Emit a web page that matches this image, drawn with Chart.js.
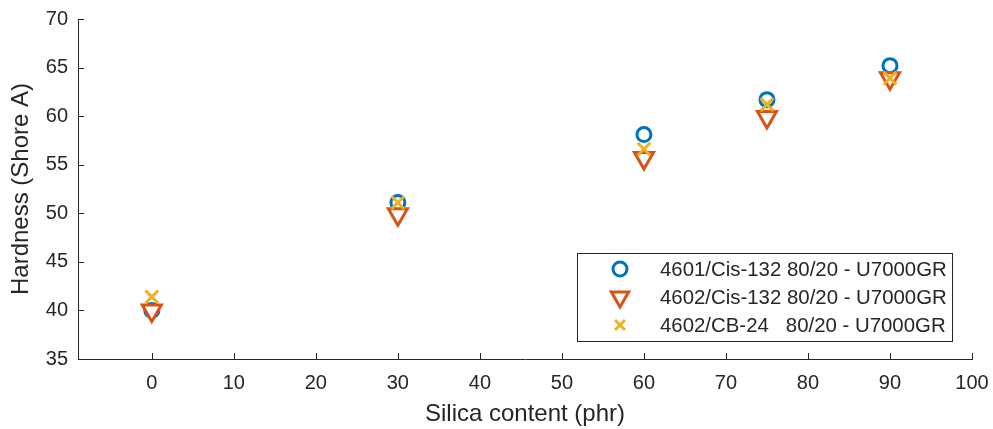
<!DOCTYPE html>
<html>
<head>
<meta charset="utf-8">
<script src="https://cdn.jsdelivr.net/npm/chart.js@4/dist/chart.umd.min.js"></script>
<style>
  body { margin: 0; background: #fff; }
</style>
</head>
<body>
<canvas id="hardness" width="993" height="429"></canvas>
<script>
// Silica content (phr) vs hardness (Shore A) for three compounds
const silica = [0, 30, 60, 75, 90];
const cis4601 = [40.0, 51.1, 58.1, 61.7, 65.2];
const cis4602 = [40.0, 49.9, 55.7, 59.9, 63.9];
const cb4602 = [41.4, 51.1, 56.6, 61.2, 63.9];

const seriesLabels = [
  '4601/Cis-132 80/20 - U7000GR',
  '4602/Cis-132 80/20 - U7000GR',
  '4602/CB-24   80/20 - U7000GR'
];
const xTicks = [0, 10, 20, 30, 40, 50, 60, 70, 80, 90, 100];

const axisColor = '#262626';
const fontFamily = '"Liberation Sans", Arial, sans-serif';

function points(ys) {
  return silica.map((x, i) => ({ x: x, y: ys[i] }));
}

// MATLAB-like ticks drawn inside the axes
const inwardTicks = {
  id: 'inwardTicks',
  afterDraw(chart) {
    const ctx = chart.ctx;
    const xs = chart.scales.x, ys = chart.scales.y;
    const area = chart.chartArea;
    ctx.save();
    ctx.strokeStyle = axisColor;
    ctx.lineWidth = 1;
    ctx.beginPath();
    xs.ticks.forEach(t => {
      const px = Math.round(xs.getPixelForValue(t.value)) + 0.5;
      ctx.moveTo(px, area.bottom);
      ctx.lineTo(px, area.bottom - 6);
    });
    ys.ticks.forEach(t => {
      const py = Math.round(ys.getPixelForValue(t.value)) + 0.5;
      ctx.moveTo(area.left, py);
      ctx.lineTo(area.left + 6, py);
    });
    ctx.stroke();
    ctx.restore();
  }
};

// legend box in the lower right of the plot
const boxLegend = {
  id: 'boxLegend',
  afterDraw(chart) {
    const ctx = chart.ctx;
    const area = chart.chartArea;
    const w = 375, h = 88;
    const left = area.right - 20 - w;
    const top = area.bottom - 18 - h;
    ctx.save();
    ctx.fillStyle = '#fff';
    ctx.fillRect(left, top, w, h);
    ctx.strokeStyle = axisColor;
    ctx.lineWidth = 1;
    ctx.strokeRect(Math.round(left) + 0.5, Math.round(top) + 0.5, w, h);
    chart.data.datasets.forEach((ds, i) => {
      const cy = top + 16 + i * 28;
      ctx.strokeStyle = ds.borderColor;
      ctx.fillStyle = ds.backgroundColor;
      ctx.lineWidth = ds.borderWidth;
      Chart.helpers.drawPoint(ctx, {
        pointStyle: ds.pointStyle,
        radius: ds.legendRadius,
        rotation: ds.rotation || 0,
        borderWidth: ds.borderWidth
      }, left + 43, cy);
      ctx.fillStyle = axisColor;
      ctx.font = '20.4px ' + fontFamily;
      ctx.textBaseline = 'middle';
      ctx.textAlign = 'left';
      ctx.fillText(ds.label, left + 83, cy + 1);
    });
    ctx.restore();
  }
};

new Chart(document.getElementById('hardness'), {
  type: 'scatter',
  data: {
    datasets: [
      {
        label: seriesLabels[0],
        data: points(cis4601),
        pointStyle: 'circle',
        pointRadius: 7,
        legendRadius: 7,
        borderColor: '#0072BD',
        backgroundColor: '#ffffff',
        borderWidth: 3,
        order: 3
      },
      {
        label: seriesLabels[1],
        data: points(cis4602),
        pointStyle: 'triangle',
        pointRotation: 180,
        rotation: 180,
        pointRadius: 11,
        legendRadius: 10,
        borderColor: '#D95319',
        backgroundColor: '#ffffff',
        borderWidth: 3,
        order: 2
      },
      {
        label: seriesLabels[2],
        data: points(cb4602),
        pointStyle: 'crossRot',
        pointRadius: 9,
        legendRadius: 7,
        borderColor: '#EDB120',
        backgroundColor: '#EDB120',
        borderWidth: 3,
        order: 1
      }
    ]
  },
  options: {
    responsive: false,
    animation: false,
    layout: { padding: { left: 0, top: 19, right: 21, bottom: 0 } },
    plugins: {
      legend: { display: false },
      tooltip: { enabled: false }
    },
    scales: {
      x: {
        type: 'linear',
        min: -9,
        max: 100,
        afterBuildTicks(scale) { scale.ticks = xTicks.map(v => ({ value: v })); },
        afterFit(scale) {
          scale.height = 70;
          scale.paddingLeft = 0;
          scale.paddingRight = 0;
        },
        grid: { drawOnChartArea: false, drawTicks: false },
        border: { display: true, color: axisColor, width: 1 },
        ticks: { color: axisColor, padding: 12, maxRotation: 0, font: { family: fontFamily, size: 20 } },
        title: {
          display: true,
          text: 'Silica content (phr)',
          color: axisColor,
          padding: { top: 2, bottom: 0 },
          font: { family: fontFamily, size: 24 }
        }
      },
      y: {
        min: 35,
        max: 70,
        afterFit(scale) {
          scale.width = 78;
          scale.paddingTop = 0;
          scale.paddingBottom = 0;
        },
        grid: { drawOnChartArea: false, drawTicks: false },
        border: { display: true, color: axisColor, width: 1 },
        ticks: { stepSize: 5, color: axisColor, padding: 10, font: { family: fontFamily, size: 20 } },
        title: {
          display: true,
          text: 'Hardness (Shore A)',
          color: axisColor,
          padding: { top: 7, bottom: 0 },
          font: { family: fontFamily, size: 24 }
        }
      }
    }
  },
  plugins: [inwardTicks, boxLegend]
});
</script>
</body>
</html>
